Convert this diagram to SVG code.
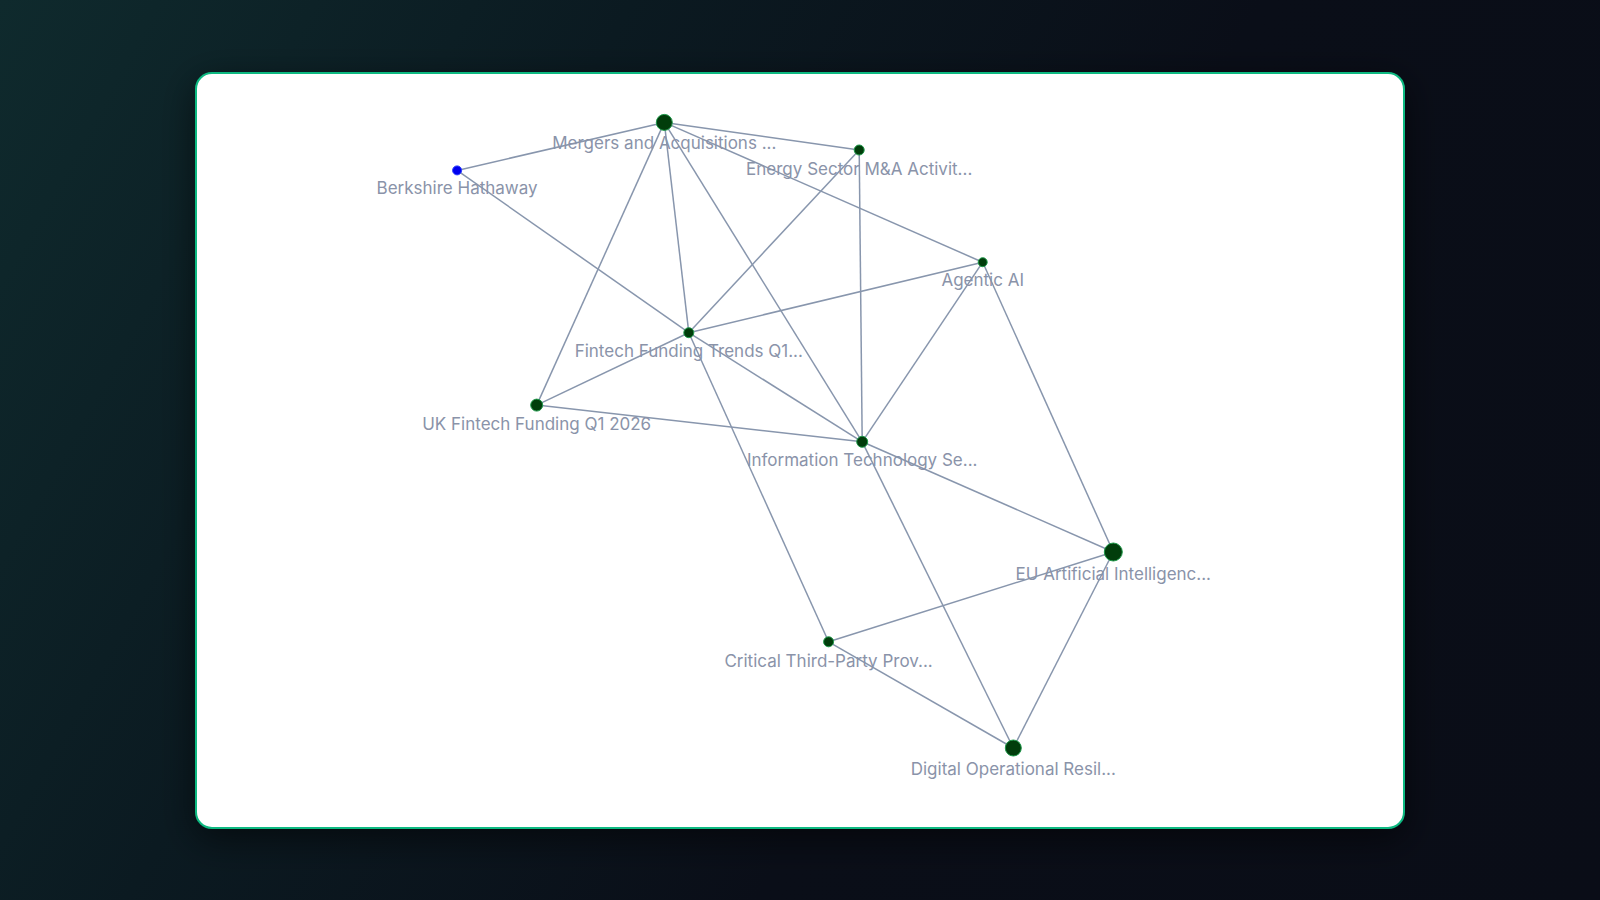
<svg xmlns="http://www.w3.org/2000/svg" width="1600" height="900" viewBox="0 0 1600 900">
  <defs>
    <linearGradient id="bg" x1="0" y1="0" x2="1600" y2="900" gradientUnits="userSpaceOnUse">
      <stop offset="0" stop-color="#0f2a2d"/>
      <stop offset="0.3" stop-color="#0b1a21"/>
      <stop offset="0.6" stop-color="#0a0e18"/>
      <stop offset="1" stop-color="#0a0d17"/>
    </linearGradient>
    <filter id="shadow" x="-10%" y="-10%" width="120%" height="125%">
      <feDropShadow dx="0" dy="10" stdDeviation="18" flood-color="#000000" flood-opacity="0.55"/>
    </filter>
    <style>
      .edge { stroke: #8896ad; stroke-width: 1.5; fill: none; }
      .node { fill: #013d0b; stroke: #1f9a4a; stroke-width: 1; }
      .blue { fill: #0000ee; stroke: #2a3cff; stroke-width: 1; }
      .label { font-family: Inter, "Liberation Sans", sans-serif; font-size: 17px; fill: #8a93a9; text-anchor: middle; }
    </style>
  </defs>
  <rect x="0" y="0" width="1600" height="900" fill="url(#bg)"/>
  <rect x="196" y="73" width="1208" height="755" rx="16" ry="16" fill="#ffffff" stroke="#10b981" stroke-width="2" filter="url(#shadow)"/>

  <g id="connectors">
    <line class="edge" x1="457.1" y1="170.4" x2="664.3" y2="122.4"/>
    <line class="edge" x1="457.1" y1="170.4" x2="688.8" y2="332.7"/>
    <line class="edge" x1="664.3" y1="122.4" x2="859.2" y2="150"/>
    <line class="edge" x1="664.3" y1="122.4" x2="982.7" y2="262.2"/>
    <line class="edge" x1="664.3" y1="122.4" x2="536.7" y2="405.1"/>
    <line class="edge" x1="664.3" y1="122.4" x2="688.8" y2="332.7"/>
    <line class="edge" x1="664.3" y1="122.4" x2="862.2" y2="441.8"/>
    <line class="edge" x1="859.2" y1="150" x2="688.8" y2="332.7"/>
    <line class="edge" x1="859.2" y1="150" x2="862.2" y2="441.8"/>
    <line class="edge" x1="982.7" y1="262.2" x2="688.8" y2="332.7"/>
    <line class="edge" x1="982.7" y1="262.2" x2="862.2" y2="441.8"/>
    <line class="edge" x1="982.7" y1="262.2" x2="1113.3" y2="552"/>
    <line class="edge" x1="688.8" y1="332.7" x2="536.7" y2="405.1"/>
    <line class="edge" x1="688.8" y1="332.7" x2="862.2" y2="441.8"/>
    <line class="edge" x1="688.8" y1="332.7" x2="828.6" y2="641.8"/>
    <line class="edge" x1="536.7" y1="405.1" x2="862.2" y2="441.8"/>
    <line class="edge" x1="862.2" y1="441.8" x2="1113.3" y2="552"/>
    <line class="edge" x1="862.2" y1="441.8" x2="1013.3" y2="748"/>
    <line class="edge" x1="1113.3" y1="552" x2="828.6" y2="641.8"/>
    <line class="edge" x1="1113.3" y1="552" x2="1013.3" y2="748"/>
    <line class="edge" x1="828.6" y1="641.8" x2="1013.3" y2="748"/>
  </g>

  <g id="node-berkshire">
    <circle class="blue" cx="457.1" cy="170.4" r="4.5"/>
    <text class="label" x="457.1" y="193.5">Berkshire Hathaway</text>
  </g>
  <g id="node-mergers">
    <circle class="node" cx="664.3" cy="122.4" r="8"/>
    <text class="label" x="664.3" y="149">Mergers and Acquisitions ...</text>
  </g>
  <g id="node-energy">
    <circle class="node" cx="859.2" cy="150" r="5"/>
    <text class="label" x="859.2" y="174.5">Energy Sector M&amp;A Activit...</text>
  </g>
  <g id="node-agentic">
    <circle class="node" cx="982.7" cy="262.2" r="4.5"/>
    <text class="label" x="982.7" y="285.5">Agentic AI</text>
  </g>
  <g id="node-fintech-trends">
    <circle class="node" cx="688.8" cy="332.7" r="5"/>
    <text class="label" x="688.8" y="356.5">Fintech Funding Trends Q1...</text>
  </g>
  <g id="node-uk-fintech">
    <circle class="node" cx="536.7" cy="405.1" r="6"/>
    <text class="label" x="536.7" y="429.5">UK Fintech Funding Q1 2026</text>
  </g>
  <g id="node-it">
    <circle class="node" cx="862.2" cy="441.8" r="5.5"/>
    <text class="label" x="862.2" y="465.5">Information Technology Se...</text>
  </g>
  <g id="node-eu-ai">
    <circle class="node" cx="1113.3" cy="552" r="9"/>
    <text class="label" x="1113.3" y="579.5">EU Artificial Intelligenc...</text>
  </g>
  <g id="node-critical">
    <circle class="node" cx="828.6" cy="641.8" r="5"/>
    <text class="label" x="828.6" y="666.5">Critical Third-Party Prov...</text>
  </g>
  <g id="node-digital">
    <circle class="node" cx="1013.3" cy="748" r="8"/>
    <text class="label" x="1013.3" y="774.5">Digital Operational Resil...</text>
  </g>
</svg>
